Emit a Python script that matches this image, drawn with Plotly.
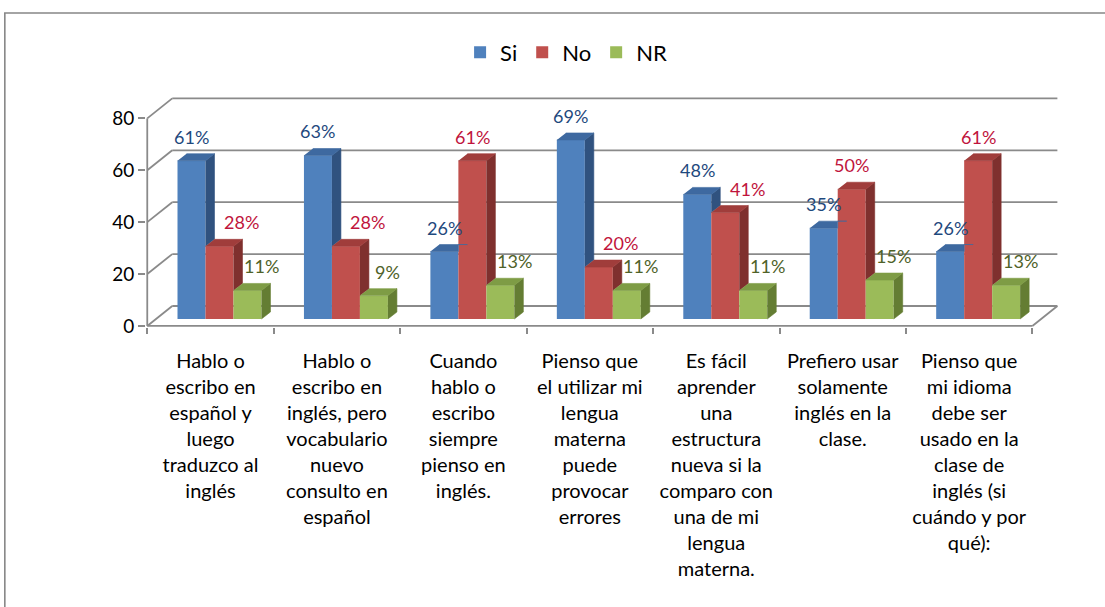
import plotly.graph_objects as go

# ---- data -------------------------------------------------------------
categories = [
    "Hablo o<br>escribo en<br>español y<br>luego<br>traduzco al<br>inglés",
    "Hablo o<br>escribo en<br>inglés, pero<br>vocabulario<br>nuevo<br>consulto en<br>español",
    "Cuando<br>hablo o<br>escribo<br>siempre<br>pienso en<br>inglés.",
    "Pienso que<br>el utilizar mi<br>lengua<br>materna<br>puede<br>provocar<br>errores",
    "Es fácil<br>aprender<br>una<br>estructura<br>nueva si la<br>comparo con<br>una de mi<br>lengua<br>materna.",
    "Prefiero usar<br>solamente<br>inglés en la<br>clase.",
    "Pienso que<br>mi idioma<br>debe ser<br>usado en la<br>clase de<br>inglés (si<br>cuándo y por<br>qué):",
]
si = [61, 63, 26, 69, 48, 35, 26]
no = [28, 28, 61, 20, 41, 50, 61]
nr = [11, 9, 13, 11, 11, 15, 13]
series_names = ["Si", "No", "NR"]
y_ticks = [0, 20, 40, 60, 80]

# ---- styling ----------------------------------------------------------
FONT = "Lato, 'Open Sans', sans-serif"
FRONT = ["#4F81BD", "#C0504D", "#9BBB59"]
TOP = ["#3E69A0", "#A03D3B", "#7E9C45"]
SIDE = ["#30527F", "#7F302E", "#647D33"]
LABEL = ["#1F497D", "#C0143C", "#4F6228"]
GRID = "#8A8A8A"

W, H = 1105, 607
PX_X = 126.5          # pixels per category
PX_Y = 2.6            # pixels per value unit
X_LEFT_PX = 147.0     # pixel of the front left edge (x = -0.5)
Y_ZERO_PX = 326.0     # pixel of the front floor edge (value 0)

# oblique depth of the walls and of the bars (in data units)
WALL_DX, WALL_DY = 25 / PX_X, 20 / PX_Y
BAR_DX0, BAR_DY0 = 9 / PX_X, 7 / PX_Y      # front face of the bars
BAR_DX, BAR_DY = 9 / PX_X, 7 / PX_Y        # depth of a bar
BW = 28 / PX_X                             # bar width

XR = (-0.51, 6.75)
YR = (-0.4, 89.0)
ml = X_LEFT_PX + (XR[0] + 0.5) * PX_X
pw = (XR[1] - XR[0]) * PX_X
mr = W - ml - pw
mt = Y_ZERO_PX - YR[1] * PX_Y
ph = (YR[1] - YR[0]) * PX_Y
mb = H - mt - ph


def paper_x(px):
    return (px - ml) / pw


def paper_y(py):
    return (mt + ph - py) / ph


n = len(categories)
values = [si, no, nr]
x_first, x_last = -0.5, n - 0.5

fig = go.Figure()

# front faces of the columns
offsets = [BAR_DX0 - 1.5 * BW + k * BW for k in range(3)]
for k, name in enumerate(series_names):
    fig.add_trace(go.Bar(
        name=name, x=list(range(n)), y=values[k], base=[BAR_DY0] * n,
        width=BW, offset=offsets[k],
        marker=dict(color=FRONT[k], line=dict(width=0)),
    ))


def top_side_faces(xl, xr, top, nxt):
    """Top and right faces of a column, trimmed where the next column hides them."""
    bottom = BAR_DY0
    side = []
    h0 = bottom if nxt is None else max(bottom, nxt)
    if h0 < top:
        side = [(xr, h0), (xr + BAR_DX, h0 + BAR_DY), (xr + BAR_DX, top + BAR_DY), (xr, top)]
    t = top if nxt is None else min(max(nxt, top), top + BAR_DY)
    topf = [(xl, top), (xr, top), (xr, t), (xr + (t - top) / BAR_DY * BAR_DX, t),
            (xr + BAR_DX, top + BAR_DY), (xl + BAR_DX, top + BAR_DY)]
    return topf, side


for k in range(3):
    tx, ty, sx, sy = [], [], [], []
    for i in range(n):
        xl = i + offsets[k]
        xr = xl + BW
        top = BAR_DY0 + values[k][i]
        nxt = BAR_DY0 + values[k + 1][i] if k < 2 else None
        topf, side = top_side_faces(xl, xr, top, nxt)
        for (px_, py_) in topf:
            tx.append(px_); ty.append(py_)
        tx.append(None); ty.append(None)
        for (px_, py_) in side:
            sx.append(px_); sy.append(py_)
        sx.append(None); sy.append(None)
    fig.add_trace(go.Scatter(x=sx, y=sy, mode="lines", fill="toself", fillcolor=SIDE[k],
                             line=dict(color=SIDE[k], width=0.6), showlegend=False,
                             hoverinfo="skip"))
    fig.add_trace(go.Scatter(x=tx, y=ty, mode="lines", fill="toself", fillcolor=TOP[k],
                             line=dict(color=TOP[k], width=0.6), showlegend=False,
                             hoverinfo="skip"))

# value labels
annotations = []
for k in range(3):
    for i in range(n):
        v = values[k][i]
        if k == 1:
            xs = 22 if v < si[i] else 0
        elif k == 2:
            xs = 14
        else:
            xs = 0
        annotations.append(dict(
            x=i + offsets[k] + BW / 2, y=BAR_DY0 + v, xref="x", yref="y",
            text=f"{v}%", showarrow=False, yanchor="middle", yshift=24, xshift=xs,
            font=dict(family=FONT, size=18, color=LABEL[k]),
        ))

# walls, floor and gridlines
shapes = []


def seg(x0, y0, x1, y1):
    shapes.append(dict(type="line", xref="x", yref="y", x0=x0, y0=y0, x1=x1, y1=y1,
                       line=dict(color=GRID, width=1.8), layer="below"))


for v in y_ticks:
    seg(x_first, v, x_first + WALL_DX, v + WALL_DY)
    seg(x_first + WALL_DX, v + WALL_DY, x_last + WALL_DX, v + WALL_DY)
seg(x_first, 0, x_first, y_ticks[-1])
seg(x_first, 0, x_last, 0)
seg(x_last, 0, x_last + WALL_DX, WALL_DY)

# chart frame
shapes.append(dict(type="rect", xref="paper", yref="paper",
                   x0=paper_x(4.5), x1=paper_x(W + 10), y0=paper_y(H + 10), y1=paper_y(12.5),
                   line=dict(color="#878787", width=1.6), fillcolor="rgba(0,0,0,0)",
                   layer="below"))

fig.update_layout(
    width=W, height=H, autosize=False,
    margin=dict(l=ml, r=mr, t=mt, b=mb, autoexpand=False),
    paper_bgcolor="white", plot_bgcolor="white",
    barmode="overlay",
    font=dict(family=FONT, color="#000000"),
    showlegend=True,
    legend=dict(orientation="h", x=paper_x(566), xanchor="center",
                y=paper_y(52), yanchor="middle",
                font=dict(family=FONT, size=22, color="#000000"),
                bgcolor="rgba(0,0,0,0)", traceorder="normal"),
    xaxis=dict(range=list(XR), tickmode="array", tickvals=list(range(n)),
               ticktext=categories, ticks="", showgrid=False, zeroline=False,
               showline=False, tickangle=0, ticklabelstandoff=20,
               tickfont=dict(family=FONT, size=20, color="#000000"),
               minor=dict(tickmode="array", tickvals=[i - 0.5 for i in range(n + 1)],
                          ticks="outside", ticklen=6, tickcolor=GRID, tickwidth=1.5,
                          showgrid=False)),
    yaxis=dict(range=list(YR), tickmode="array", tickvals=y_ticks, ticks="outside",
               ticklen=7, tickcolor=GRID, tickwidth=1.5, showgrid=False,
               zeroline=False, showline=False,
               tickfont=dict(family=FONT, size=19, color="#000000")),
    annotations=annotations,
    shapes=shapes,
)

fig.write_html("out.html")
